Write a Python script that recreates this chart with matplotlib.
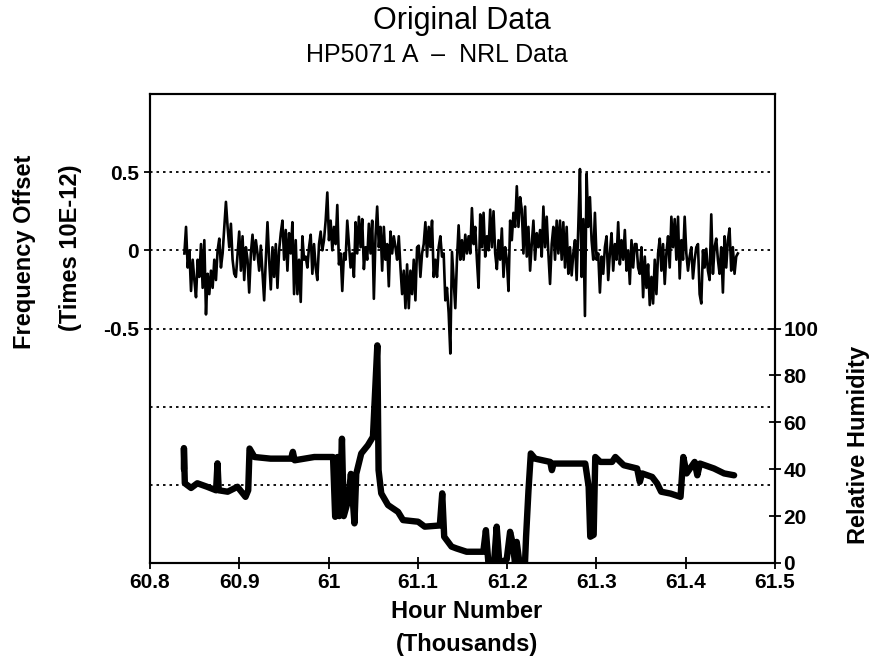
import numpy as np
import matplotlib
matplotlib.use("Agg")
import matplotlib.pyplot as plt
from matplotlib import font_manager

# ---------------- data ----------------
title = "Original Data"
subtitle = "HP5071 A  \u2013  NRL Data"
x_label = "Hour Number"
x_label2 = "(Thousands)"
y_label = "Frequency Offset"
y_label2 = "(Times 10E-12)"
y2_label = "Relative Humidity"

x_ticks = [60.8, 60.9, 61.0, 61.1, 61.2, 61.3, 61.4, 61.5]
x_tick_labels = ["60.8", "60.9", "61", "61.1", "61.2", "61.3", "61.4", "61.5"]
y_ticks = [-0.5, 0.0, 0.5]
y_tick_labels = ["-0.5", "0", "0.5"]
y2_ticks = [0, 20, 40, 60, 80, 100]
grid_levels = [0.5, 0.0, -0.5, -1.0, -1.5]

freq_start, freq_end = 60.8385, 61.4584  # hour number (thousands) of first / last sample
freq_offset = [
    # 60.84 - 60.96
    -0.02, 0.15, -0.11, 0.0, -0.26, -0.06, -0.19, -0.30, -0.06, -0.17, 0.04, -0.24, 0.065,
    -0.41, -0.15, -0.28, -0.13, -0.24, -0.06, -0.19, 0.0, 0.075, -0.11, -0.02, 0.15, 0.31,
    0.15, 0.02, 0.17, -0.06, -0.15, -0.17, -0.02, 0.12, -0.13, 0.09, -0.19, 0.02, -0.06,
    -0.27, -0.02, 0.10, -0.06, 0.065, -0.02, -0.13, 0.03, -0.15, -0.32, -0.06, 0.18, -0.06,
    -0.25, 0.02, -0.17, 0.04, -0.24, 0.0, 0.11, 0.19, -0.06, 0.13, -0.13, 0.11, -0.02,
    # 60.96 - 61.09
    0.18, -0.28, 0.065, -0.28, -0.06, -0.33, 0.09, -0.06, -0.04, -0.11, 0.02, 0.10, -0.15,
    0.04, -0.11, -0.19, 0.04, 0.12, 0.0, 0.065, 0.19, 0.37, 0.065, 0.19, 0.0, 0.15, 0.04,
    0.29, -0.09, -0.02, -0.26, -0.02, -0.06, 0.19, 0.04, -0.11, -0.02, -0.17, 0.18, -0.02,
    0.215, 0.02, 0.20, -0.12, 0.02, -0.06, 0.17, -0.02, 0.19, -0.31, 0.09, 0.28, 0.02,
    0.15, -0.13, 0.15, -0.06, 0.04, -0.23, 0.12, -0.02, 0.09, 0.02, -0.06, 0.09, -0.11,
    -0.28, -0.13, -0.37,
    # 61.09 - 61.22
    -0.09, -0.37, -0.13, -0.28, -0.06, -0.32, 0.02, 0.03, -0.17, -0.02, 0.04, 0.18, -0.04,
    0.15, 0.02, 0.19, -0.17, -0.06, -0.17, 0.02, 0.09, -0.04, -0.02, -0.32, -0.24, -0.40,
    -0.66, -0.01, -0.19, -0.37, -0.06, 0.16, -0.06, 0.065, -0.06, 0.10, -0.02, 0.09, -0.02,
    0.27, 0.04, 0.15, -0.06, -0.24, 0.23, 0.02, 0.24, -0.04, 0.09, 0.0, 0.26, 0.02, 0.25,
    -0.02, -0.12, 0.065, -0.06, 0.14, -0.17, 0.02, -0.06, -0.26, 0.19, 0.065, 0.24, 0.15,
    0.41, 0.15, 0.34,
    # 61.22 - 61.35
    0.26, -0.02, 0.28, -0.04, 0.15, -0.13, 0.04, 0.19, -0.06, 0.11, 0.02, 0.13, -0.04,
    0.28, 0.02, 0.215, -0.02, -0.215, 0.04, 0.15, -0.06, 0.19, -0.02, 0.19, -0.06, 0.18,
    -0.11, 0.15, -0.15, 0.02, -0.16, -0.02, 0.065, -0.19, 0.15, 0.52, -0.17, 0.20, -0.42,
    0.49, 0.15, 0.34, 0.065, -0.06, 0.24, -0.06, -0.02, -0.27, -0.04, -0.15, 0.02, 0.09,
    -0.19, -0.02, 0.11, -0.13, 0.04, -0.06, 0.18, -0.09, 0.065, -0.06, 0.13, -0.13, 0.0,
    -0.215, 0.065, -0.11, 0.04,
    # 61.35 - 61.46
    0.04, -0.11, -0.15, 0.02, -0.30, -0.04, -0.24, -0.09, -0.35, -0.17, -0.34, -0.06, -0.28,
    -0.02, 0.075, -0.13, 0.04, -0.215, -0.02, 0.09, -0.11, 0.215, 0.02, 0.20, -0.06, 0.215,
    -0.18, 0.065, -0.06, 0.215, -0.02, -0.13, -0.04, 0.02, -0.18, -0.06, 0.02, 0.04, -0.28,
    -0.34, 0.0, -0.11, 0.01, -0.13, -0.19, 0.23, -0.15, 0.02, 0.075, -0.06, -0.15, 0.02,
    -0.27, 0.09, -0.11, 0.065, 0.14, -0.13, 0.02, -0.15, -0.04, -0.02,
]

humidity_hours = [
    60.838, 60.838, 60.839, 60.846, 60.853, 60.864, 60.874, 60.8756, 60.877, 60.887,
    60.898, 60.907, 60.910, 60.9115, 60.917, 60.935, 60.958, 60.960, 60.962, 60.984,
    61.005, 61.0074, 61.010, 61.012, 61.015, 61.017, 61.022, 61.025, 61.029, 61.031,
    61.0366, 61.044, 61.0497, 61.0546, 61.056, 61.059, 61.0666, 61.0778, 61.0834, 61.1003,
    61.1077, 61.1246, 61.1273, 61.1295, 61.1377, 61.1433, 61.1546, 61.1733, 61.1762, 61.179,
    61.1853, 61.1883, 61.1913, 61.1995, 61.2033, 61.2062, 61.2088, 61.2107, 61.2138, 61.220,
    61.2212, 61.2239, 61.2265, 61.2313, 61.2482, 61.2501, 61.252, 61.2875, 61.2913, 61.2931,
    61.2969, 61.2987, 61.3044, 61.3175, 61.3212, 61.3306, 61.3456, 61.3486, 61.3512, 61.3624,
    61.368, 61.3725, 61.383, 61.3942, 61.3973, 61.401, 61.410, 61.413, 61.416, 61.4317,
    61.443, 61.4542,
]
humidity = [
    40, 49, 34, 32, 34, 32.5, 31, 42.5, 31, 30.4,
    32.5, 28.2, 31, 48.8, 45.2, 44.5, 44.5, 47.4, 43.8, 45.2,
    45.2, 19.7, 45.2, 20, 53, 20, 26.8, 38, 16.9, 38,
    46.7, 50.2, 53.8, 92.8, 39.6, 29.7, 24.7, 21.8, 18.3, 17.6,
    15.5, 16, 29.7, 11.2, 7, 6.2, 4.8, 4.8, 14, 0,
    0, 15.5, 0, 1.5, 13.3, 8.4, 0, 9, 0, 0,
    11.2, 31, 46.7, 44.5, 43.1, 39.6, 42.4, 42.4, 32.5, 11.2,
    12, 45.2, 43.1, 43.1, 45.2, 41.7, 40.3, 34.6, 38.2, 36.7,
    33.9, 30.4, 29.6, 28.2, 45.2, 38.2, 43.1, 37.4, 42.4, 40.3,
    38.2, 37.4,
]

# ---------------- style ----------------
names = {f.name for f in font_manager.fontManager.ttflist}
font = "Liberation Sans Narrow" if "Liberation Sans Narrow" in names else "Liberation Sans"
plt.rcParams["font.family"] = [font, "DejaVu Sans"]

fig = plt.figure(figsize=(8.74, 6.64), dpi=100)
W, H = 874, 664
ax = fig.add_axes([150 / W, 1 - 563 / H, 625 / W, 469 / H])
ax.set_xlim(60.8, 61.5)
ax.set_ylim(-2.0, 1.0)

for g in grid_levels:
    ax.axhline(g, color="black", lw=1.3, ls=(0, (1.4, 2.2)), zorder=1)

hours = np.linspace(freq_start, freq_end, len(freq_offset))
ax.plot(hours, freq_offset, color="black", lw=1.9, zorder=3)

ax2 = ax.twinx()
ax2.set_ylim(0, 200)
ax2.plot(humidity_hours, humidity, color="black", lw=4.6,
         solid_joinstyle="round", solid_capstyle="round", zorder=3)

for a in (ax, ax2):
    for s in a.spines.values():
        s.set_linewidth(1.5)
        s.set_color("black")

tick_font = dict(fontsize=15, fontweight="bold")
ax.set_xticks(x_ticks)
ax.set_xticklabels(x_tick_labels, **tick_font)
ax.set_yticks(y_ticks)
ax.set_yticklabels(y_tick_labels, **tick_font)
ax2.set_yticks(y2_ticks)
ax2.set_yticklabels([str(v) for v in y2_ticks], **tick_font)
ax.tick_params(axis="x", direction="inout", length=9, width=1.3, pad=3)
ax.tick_params(axis="y", direction="out", length=4, width=1.3, pad=4)
ax2.tick_params(axis="y", direction="inout", length=8, width=1.3, pad=2)

lab_font = dict(fontsize=17, fontweight="bold")
fig.text(25 / W, 1 - 252 / H, y_label, rotation=90, ha="center", va="center", **lab_font)
fig.text(70 / W, 1 - 248 / H, y_label2, rotation=90, ha="center", va="center", **lab_font)
fig.text(858 / W, 1 - 445 / H, y2_label, rotation=90, ha="center", va="center", **lab_font)
fig.text(467 / W, 1 - 611 / H, x_label, ha="center", va="center", **lab_font)
fig.text(467 / W, 1 - 645 / H, x_label2, ha="center", va="center", **lab_font)

fig.text(462 / W, 1 - 21 / H, title, ha="center", va="center", fontsize=22)
fig.text(437 / W, 1 - 55 / H, subtitle, ha="center", va="center", fontsize=18)

fig.savefig("out.png", dpi=100)
